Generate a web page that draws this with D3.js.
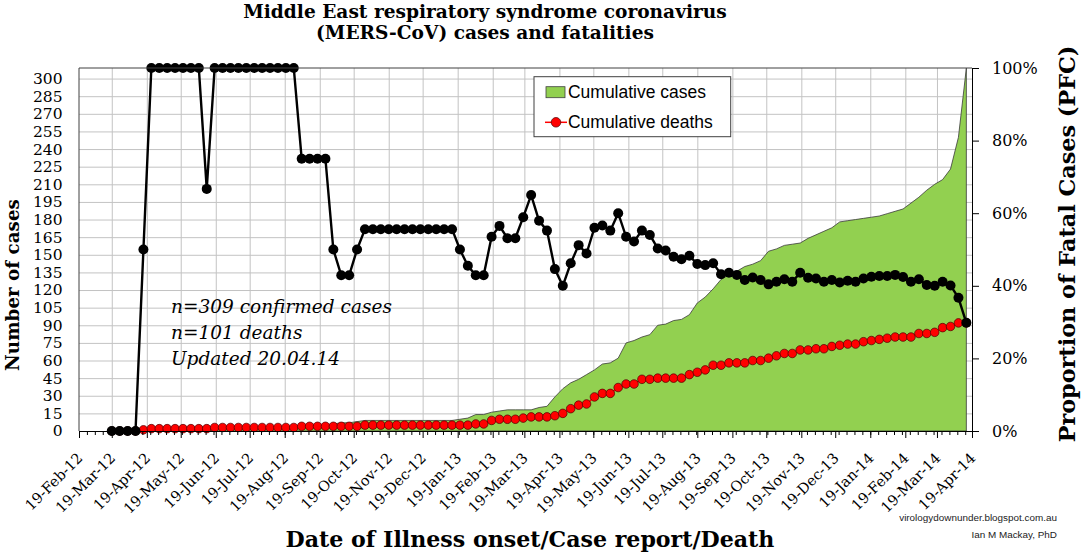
<!DOCTYPE html>
<html>
<head>
<meta charset="utf-8">
<script src="https://cdn.jsdelivr.net/npm/d3@7"></script>
<style>
  body { margin: 0; background: #fff; }
  svg { display: block; }
</style>
</head>
<body>
<script>
"use strict";

// weekly points, the first week is 19-Mar-12
const firstWeek = "2012-03-19";

const cumulativeCases = [
  1, 1, 1, 1, 2, 2, 2, 2, 2, 2,
  2, 2, 3, 3, 3, 3, 3, 3, 3, 3,
  3, 3, 3, 3, 4, 4, 4, 4, 6, 7,
  7, 8, 9, 9, 9, 9, 9, 9, 9, 9,
  9, 9, 9, 9, 10, 11, 14, 14, 16, 17,
  18, 18, 18, 18, 20, 21, 29, 36, 41, 44,
  48, 52, 57, 58, 62, 75, 77, 80, 82, 90,
  91, 94, 95, 99, 109, 114, 121, 129, 133, 136,
  140, 142, 145, 153, 155, 158, 159, 160, 164, 167,
  170, 173, 178, 179, 180, 181, 182, 183, 185, 187,
  189, 194, 199, 205, 210, 214, 223, 250, 309
];

const cumulativeDeaths = [
  0, 0, 0, 0, 1, 2, 2, 2, 2, 2,
  2, 2, 2, 3, 3, 3, 3, 3, 3, 3,
  3, 3, 3, 3, 4, 4, 4, 4, 4, 4,
  4, 4, 5, 5, 5, 5, 5, 5, 5, 5,
  5, 5, 5, 5, 5, 5, 6, 6, 9, 10,
  10, 10, 11, 12, 12, 12, 13, 15, 19, 22,
  23, 29, 32, 32, 37, 40, 40, 44, 44, 45,
  45, 45, 45, 48, 50, 52, 56, 56, 58, 58,
  58, 60, 60, 62, 64, 66, 66, 69, 69, 70,
  70, 72, 73, 74, 74, 76, 77, 78, 79, 80,
  80, 80, 83, 83, 84, 88, 89, 92, 92
];

// proportion of fatal cases, percent
const fatalPct = [
  0, 0, 0, 0, 50, 100, 100, 100, 100, 100,
  100, 100, 66.7, 100, 100, 100, 100, 100, 100, 100,
  100, 100, 100, 100, 75, 75, 75, 75, 50, 42.9,
  42.9, 50, 55.6, 55.6, 55.6, 55.6, 55.6, 55.6, 55.6, 55.6,
  55.6, 55.6, 55.6, 55.6, 50, 45.5, 42.9, 42.9, 53.5, 56.5,
  53.1, 53.1, 58.9, 65.0, 57.9, 55.2, 44.6, 40.0, 46.2, 51.2,
  48.9, 56.0, 56.6, 55.2, 60.0, 53.5, 52.2, 55.2, 54.0, 50.3,
  49.7, 48.0, 47.3, 48.3, 46.0, 45.7, 46.2, 43.2, 43.6, 43.0,
  41.6, 42.3, 41.6, 40.4, 41.1, 41.8, 41.1, 43.6, 42.2, 42.0,
  41.1, 41.6, 40.9, 41.4, 41.1, 42.0, 42.5, 42.7, 42.7, 43.0,
  42.4, 41.1, 41.8, 40.2, 40.0, 41.1, 40.1, 36.7, 29.8
];

const monthLabels = [
  "19-Feb-12", "19-Mar-12", "19-Apr-12", "19-May-12", "19-Jun-12", "19-Jul-12",
  "19-Aug-12", "19-Sep-12", "19-Oct-12", "19-Nov-12", "19-Dec-12", "19-Jan-13",
  "19-Feb-13", "19-Mar-13", "19-Apr-13", "19-May-13", "19-Jun-13", "19-Jul-13",
  "19-Aug-13", "19-Sep-13", "19-Oct-13", "19-Nov-13", "19-Dec-13", "19-Jan-14",
  "19-Feb-14", "19-Mar-14", "19-Apr-14"
];

const caseTicks = [0, 15, 30, 45, 60, 75, 90, 105, 120, 135, 150, 165, 180, 195, 210, 225, 240, 255, 270, 285, 300];
const pctTicks = [0, 0.2, 0.4, 0.6, 0.8, 1];
const caseMax = 309;

const serif = "'DejaVu Serif', Georgia, serif";
const sans = "'Liberation Sans', Arial, sans-serif";

// stretch/shrink font size so a text gets the width it has in the picture
function fitText(sel, targetWidth) {
  let len = sel.node().getComputedTextLength();
  let size = parseFloat(sel.attr("font-size"));
  sel.attr("font-size", size * targetWidth / len);
  return sel;
}

let margin = {top: 68, left: 79},
    width = 972 - 79,
    height = 431 - 68;

let svg = d3.select("body").append("svg")
    .attr("width", 1082)
    .attr("height", 555);

let g = svg.append("g").attr("transform", "translate(" + margin.left + "," + margin.top + ")");

let parseDay = d3.utcParse("%d-%b-%y");
let monthDates = monthLabels.map(parseDay);
let weekStart = d3.utcParse("%Y-%m-%d")(firstWeek);
let weeks = cumulativeCases.map((d, i) => d3.utcDay.offset(weekStart, 7 * i));
let weekTicks = d3.range(0, 791, 7).map(d => d3.utcDay.offset(monthDates[0], d));

let x = d3.scaleUtc().domain([monthDates[0], monthDates[monthDates.length - 1]]).range([0, width]);
let y = d3.scaleLinear().domain([0, caseMax]).range([height, 0]);
let yPct = d3.scaleLinear().domain([0, 1]).range([height, 0]);

// grid
g.append("g")
    .call(d3.axisLeft(y).tickValues(caseTicks.slice(1)).tickSize(-width).tickFormat(""))
    .call(s => s.select(".domain").remove())
    .selectAll("line").attr("stroke", "#c3c3c3");
g.append("g")
    .call(d3.axisBottom(x).tickValues(monthDates.slice(1, -1)).tickSize(height).tickFormat(""))
    .call(s => s.select(".domain").remove())
    .selectAll("line").attr("stroke", "#c3c3c3");

// cumulative cases area
let area = d3.area()
    .x((d, i) => x(weeks[i]))
    .y0(y(0))
    .y1(d => y(d));
g.append("path")
    .datum(cumulativeCases)
    .attr("d", area)
    .attr("fill", "#92d050")
    .attr("stroke", "#3a3a3a")
    .attr("stroke-width", 0.8);

// cumulative deaths
let deathLine = d3.line().x((d, i) => x(weeks[i])).y(d => y(d));
g.append("path")
    .datum(cumulativeDeaths)
    .attr("d", deathLine)
    .attr("fill", "none")
    .attr("stroke", "#ff0000")
    .attr("stroke-width", 1.5);
g.append("g").selectAll("circle")
    .data(cumulativeDeaths)
    .join("circle")
    .attr("cx", (d, i) => x(weeks[i]))
    .attr("cy", d => y(d))
    .attr("r", 4.3)
    .attr("fill", "#ff0000")
    .attr("stroke", "#4a0000")
    .attr("stroke-width", 0.7);

// proportion of fatal cases
let pctLine = d3.line().x((d, i) => x(weeks[i])).y(d => yPct(d / 100));
g.append("path")
    .datum(fatalPct)
    .attr("d", pctLine)
    .attr("fill", "none")
    .attr("stroke", "#000")
    .attr("stroke-width", 2.4);
g.append("g").selectAll("circle")
    .data(fatalPct)
    .join("circle")
    .attr("cx", (d, i) => x(weeks[i]))
    .attr("cy", d => yPct(d / 100))
    .attr("r", 5)
    .attr("fill", "#000");

// plot border, top and left
g.append("line").attr("x1", 0).attr("x2", width).attr("y1", 0).attr("y2", 0).attr("stroke", "#404040");
g.append("line").attr("x1", 0).attr("x2", 0).attr("y1", 0).attr("y2", height).attr("stroke", "#404040");

// left axis labels
g.append("g")
    .call(d3.axisLeft(y).tickValues(caseTicks).tickSize(0).tickPadding(16.5))
    .call(s => s.select(".domain").remove())
    .selectAll("text")
    .attr("font-family", serif)
    .attr("font-size", 15.5)
    .attr("fill", "#000");

// right axis
g.append("g")
    .attr("transform", "translate(" + width + ",0)")
    .call(d3.axisRight(yPct).tickValues(pctTicks).tickSize(7).tickSizeOuter(0).tickPadding(13).tickFormat(d3.format(".0%")))
    .call(s => s.selectAll("line, path").attr("stroke", "#000"))
    .selectAll("text")
    .attr("font-family", serif)
    .attr("font-size", 16)
    .attr("fill", "#000");

// bottom axis: weekly minor ticks, monthly labels
g.append("g")
    .attr("transform", "translate(0," + height + ")")
    .call(d3.axisBottom(x).tickValues(weekTicks).tickSize(4).tickSizeOuter(0).tickFormat(""))
    .call(s => s.selectAll("line, path").attr("stroke", "#000"));
g.append("g")
    .attr("transform", "translate(0," + height + ")")
    .call(d3.axisBottom(x).tickValues(monthDates).tickSize(7).tickSizeOuter(0).tickFormat((d, i) => monthLabels[i]))
    .call(s => s.selectAll("line, path").attr("stroke", "#000"))
    .selectAll("text")
    .attr("x", 0).attr("y", 0).attr("dy", 0)
    .attr("text-anchor", "end")
    .attr("transform", "translate(4,28) rotate(-45)")
    .attr("font-family", serif)
    .attr("font-size", 14.5)
    .attr("fill", "#000");

// titles
let t1 = svg.append("text")
    .attr("x", 485).attr("y", 18)
    .attr("text-anchor", "middle")
    .attr("font-family", serif).attr("font-weight", "bold").attr("font-size", 17)
    .text("Middle East respiratory syndrome coronavirus");
fitText(t1, 484);
svg.append("text")
    .attr("x", 485).attr("y", 39)
    .attr("text-anchor", "middle")
    .attr("font-family", serif).attr("font-weight", "bold").attr("font-size", t1.attr("font-size"))
    .text("(MERS-CoV) cases and fatalities");

fitText(svg.append("text")
    .attr("transform", "translate(19,285) rotate(-90)")
    .attr("text-anchor", "middle")
    .attr("font-family", serif).attr("font-weight", "bold").attr("font-size", 18)
    .text("Number of cases"), 172);

fitText(svg.append("text")
    .attr("transform", "translate(1075,244) rotate(-90)")
    .attr("text-anchor", "middle")
    .attr("font-family", serif).attr("font-weight", "bold").attr("font-size", 20)
    .text("Proportion of Fatal Cases (PFC)"), 397);

fitText(svg.append("text")
    .attr("x", 530).attr("y", 547)
    .attr("text-anchor", "middle")
    .attr("font-family", serif).attr("font-weight", "bold").attr("font-size", 20)
    .text("Date of Illness onset/Case report/Death"), 489);

// note inside the plot
let note = ["n=309 confirmed cases", "n=101 deaths", "Updated 20.04.14"];
let noteText = svg.append("g")
    .attr("font-family", serif).attr("font-style", "italic")
    .selectAll("text").data(note).join("text")
    .attr("x", 171)
    .attr("y", (d, i) => 312.7 + i * 26.2)
    .attr("font-size", 18)
    .text(d => d);
fitText(noteText.filter((d, i) => i === 0), 221);
noteText.attr("font-size", noteText.filter((d, i) => i === 0).attr("font-size"));

// legend
let legend = svg.append("g");
legend.append("rect")
    .attr("x", 534).attr("y", 76.7).attr("width", 196.7).attr("height", 60)
    .attr("fill", "#fff").attr("stroke", "#404040");
legend.append("rect")
    .attr("x", 546).attr("y", 86.7).attr("width", 19).attr("height", 11)
    .attr("fill", "#92d050").attr("stroke", "#404040").attr("stroke-width", 0.8);
legend.append("line")
    .attr("x1", 545).attr("x2", 567).attr("y1", 122.3).attr("y2", 122.3)
    .attr("stroke", "#ff0000").attr("stroke-width", 1.5);
legend.append("circle")
    .attr("cx", 556).attr("cy", 122.3).attr("r", 4.8)
    .attr("fill", "#ff0000").attr("stroke", "#4a0000").attr("stroke-width", 0.7);
let lt1 = legend.append("text")
    .attr("x", 568).attr("y", 98)
    .attr("font-family", sans).attr("font-size", 15)
    .text("Cumulative cases");
fitText(lt1, 138);
legend.append("text")
    .attr("x", 568).attr("y", 128)
    .attr("font-family", sans).attr("font-size", lt1.attr("font-size"))
    .text("Cumulative deaths");

// credit
let c1 = svg.append("text")
    .attr("x", 1057).attr("y", 521)
    .attr("text-anchor", "end")
    .attr("font-family", sans).attr("font-size", 10).attr("fill", "#222")
    .text("virologydownunder.blogspot.com.au");
fitText(c1, 158);
svg.append("text")
    .attr("x", 1057).attr("y", 538)
    .attr("text-anchor", "end")
    .attr("font-family", sans).attr("font-size", c1.attr("font-size")).attr("fill", "#222")
    .text("Ian M Mackay, PhD");
</script>
</body>
</html>
